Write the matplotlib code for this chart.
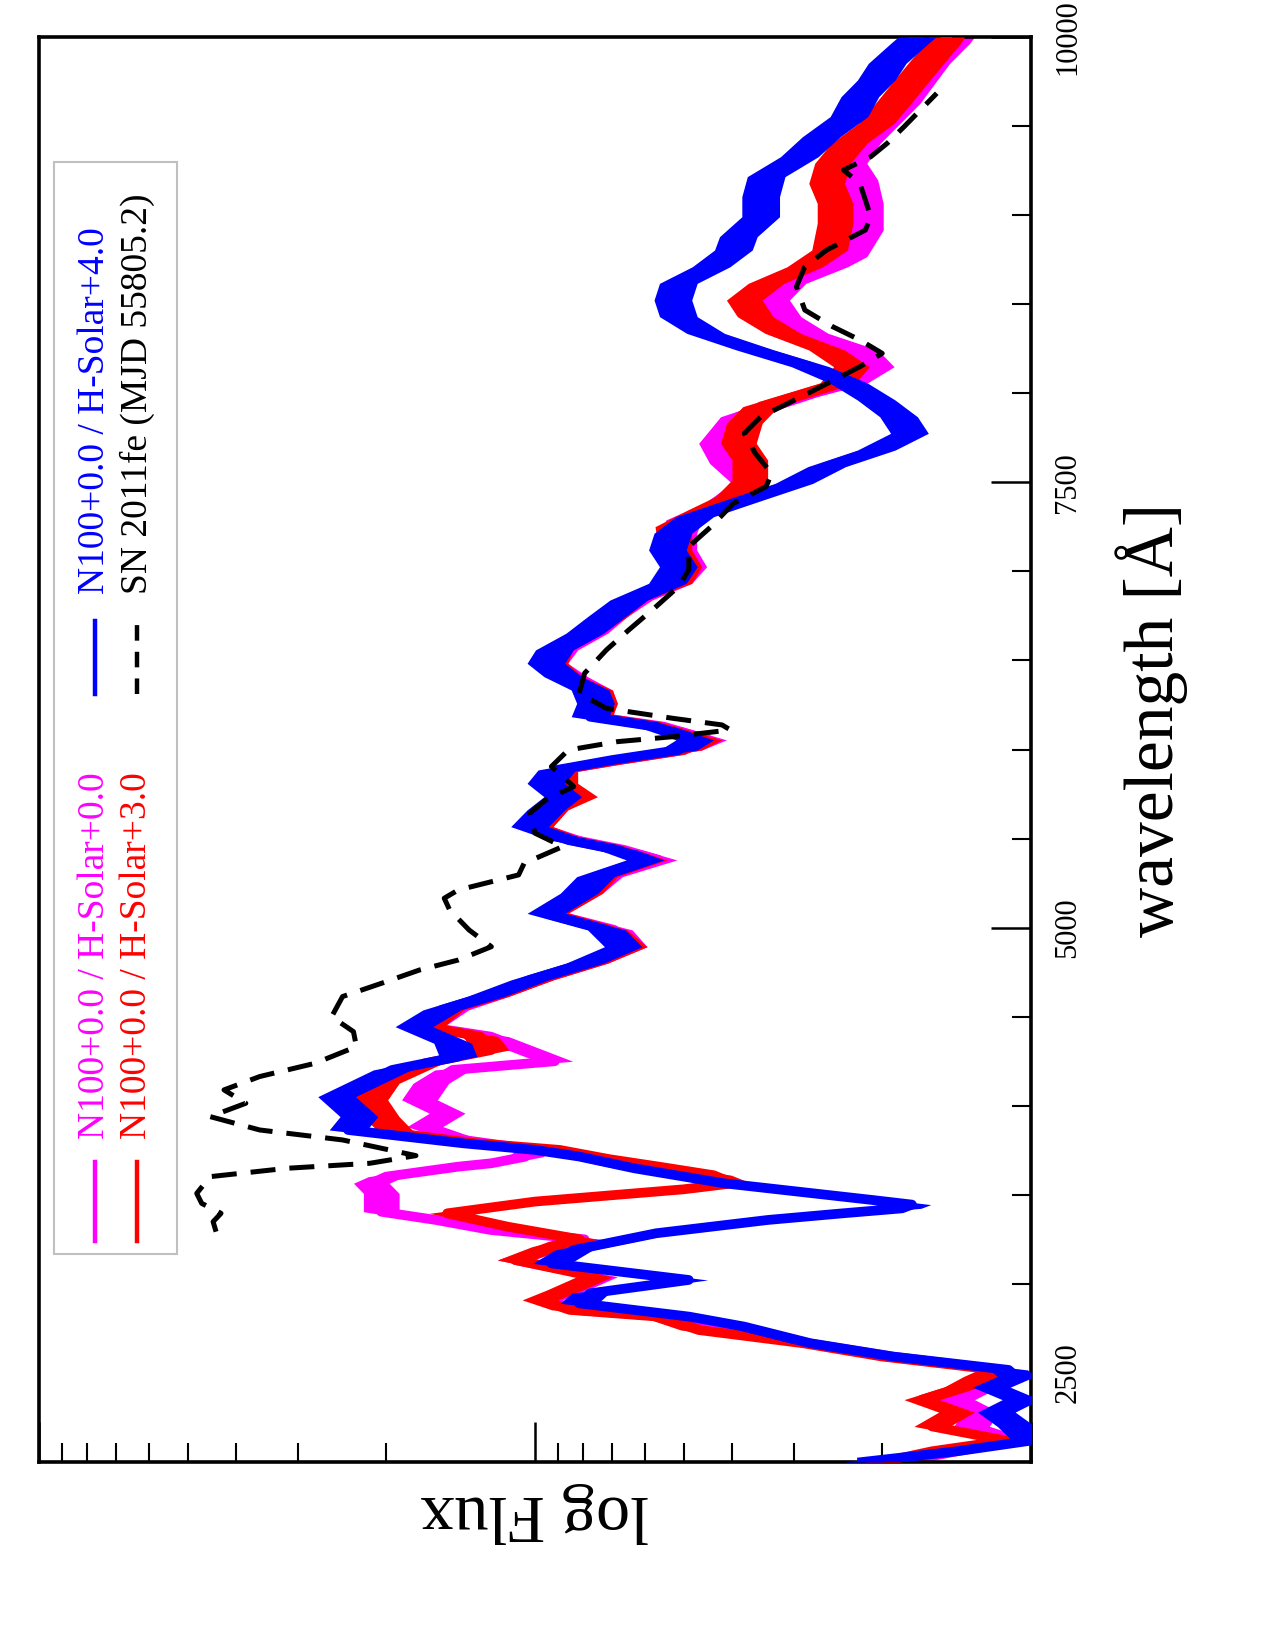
import matplotlib
matplotlib.use("Agg")
import matplotlib.pyplot as plt
import numpy as np
from matplotlib.ticker import MultipleLocator, LogLocator, NullFormatter
from matplotlib.patches import Rectangle

plt.rcParams['font.family'] = ['Liberation Serif', 'DejaVu Serif']

# wavelength [A] / log10 flux (relative units, 0 = middle decade tick)
wl_mag = [2000, 2060, 2120, 2200, 2280, 2350, 2420, 2480, 2517, 2592, 2667, 2741, 2816, 2854,
          2910, 2966, 3040, 3134, 3209, 3250, 3303, 3359, 3405, 3452, 3508, 3565, 3602, 3658,
          3677, 3714, 3752, 3808, 3883, 3958, 4033, 4126, 4201, 4250, 4388, 4444,
          4538, 4613, 4706, 4800, 4893, 4987, 5080, 5193, 5286, 5380, 5436, 5492, 5567, 5661,
          5735, 5810, 5885, 5941, 5997, 6054, 6128, 6184, 6259, 6334, 6409, 6484, 6559, 6652,
          6746, 6839, 6933, 7026, 7120, 7214, 7289, 7382, 7494, 7606, 7719, 7868, 7981, 8056,
          8149, 8243, 8336, 8430, 8523, 8617, 8710, 8767, 8916, 9066, 9197, 9291, 9403, 9515,
          9627, 9740, 9852, 9964, 10000]
lg_mag = [-0.74, -0.85, -0.97, -0.88, -0.90, -0.85, -0.90, -0.92, -0.94, -0.72, -0.55, -0.35, -0.27, -0.08,
          -0.02, -0.07, -0.13, 0.04, -0.04, -0.10, 0.09, 0.20, 0.31, 0.31, 0.31, 0.33, 0.30, 0.155,
          0.088, 0.02, 0.0, 0.144, 0.222, 0.177, 0.233, 0.21, 0.166, -0.04, 0.089, 0.22,
          0.17, 0.09, 0.0, -0.11, -0.19, -0.16, -0.03, -0.10, -0.14, -0.25, -0.18, -0.08, 0.0, -0.03,
          -0.08, -0.04, -0.05, -0.17, -0.30, -0.35, -0.26, -0.12, -0.13, -0.12, -0.07, -0.03, -0.05, -0.11,
          -0.15, -0.20, -0.28, -0.31, -0.29, -0.29, -0.30, -0.377, -0.433, -0.388, -0.366, -0.41, -0.533, -0.633,
          -0.688, -0.655, -0.555, -0.50, -0.477, -0.51, -0.594, -0.633, -0.666, -0.666, -0.655, -0.633, -0.66, -0.70,
          -0.74, -0.77, -0.80, -0.84, -0.85]

wl_red = [2000, 2060, 2120, 2200, 2280, 2350, 2420, 2480, 2517, 2592, 2667, 2741, 2816, 2854,
          2910, 2966, 3040, 3134, 3209, 3250, 3321, 3396, 3462, 3531, 3565, 3610, 3658, 3700,
          3752, 3790, 3845, 3939, 4033, 4126, 4238, 4313, 4388, 4444,
          4538, 4613, 4706, 4800, 4893, 4987, 5080, 5193, 5286, 5380, 5436, 5492, 5567, 5661,
          5735, 5810, 5885, 5941, 5997, 6054, 6128, 6184, 6259, 6334, 6409, 6484, 6559, 6652,
          6746, 6839, 6933, 7026, 7120, 7214, 7251, 7345, 7420, 7513, 7625, 7719, 7831, 7925,
          8000, 8056, 8149, 8243, 8336, 8430, 8523, 8617, 8710, 8804, 8954, 9066, 9178, 9291,
          9403, 9515, 9627, 9740, 9852, 9964, 10000]
lg_red = [-0.70, -0.80, -0.95, -0.80, -0.85, -0.78, -0.86, -0.90, -0.93, -0.70, -0.54, -0.33, -0.25, -0.07,
          -0.01, -0.06, -0.12, 0.04, -0.03, -0.09, 0.055, 0.177, 0.0, -0.30, -0.40, -0.36, -0.25, -0.15,
          -0.05, 0.12, 0.277, 0.31, 0.333, 0.31, 0.222, 0.088, 0.11, 0.22,
          0.18, 0.09, 0.0, -0.11, -0.19, -0.15, -0.03, -0.10, -0.13, -0.23, -0.17, -0.07, 0.0, -0.03,
          -0.09, -0.05, -0.05, -0.17, -0.30, -0.34, -0.25, -0.12, -0.13, -0.12, -0.06, -0.03, -0.04, -0.10,
          -0.15, -0.19, -0.28, -0.30, -0.28, -0.28, -0.278, -0.344, -0.40, -0.433, -0.433, -0.41, -0.422, -0.455,
          -0.544, -0.61, -0.638, -0.588, -0.50, -0.444, -0.422, -0.466, -0.544, -0.594, -0.605, -0.605, -0.588, -0.60,
          -0.633, -0.688, -0.722, -0.755, -0.788, -0.822, -0.83]

wl_blue = [2000, 2060, 2120, 2200, 2280, 2350, 2420, 2480, 2517, 2592, 2667, 2760, 2816, 2891,
           2947, 3022, 3115, 3190, 3284, 3359, 3396, 3424, 3445, 3471, 3565, 3649, 3715, 3752,
           3789, 3864, 3939, 4051, 4126, 4201, 4276, 4351, 4444, 4538, 4613, 4706, 4800, 4893,
           4987, 5080, 5193, 5286, 5380, 5436, 5492, 5567, 5661, 5735, 5810, 5885, 5941, 5997,
           6054, 6128, 6184, 6259, 6334, 6409, 6484, 6559, 6652, 6746, 6839, 6933, 7026, 7120,
           7214, 7307, 7401, 7494, 7588, 7681, 7775, 7868, 7962, 8056, 8149, 8243, 8336, 8430,
           8523, 8617, 8710, 8804, 8879, 8991, 9104, 9216, 9328, 9440, 9553, 9665, 9758, 9852,
           9964, 10000]
lg_blue = [-0.66, -0.85, -1.0, -0.97, -0.93, -0.98, -0.92, -0.97, -0.955, -0.722, -0.555, -0.422, -0.311, -0.089,
           -0.111, -0.31, -0.033, -0.078, -0.244, -0.47, -0.62, -0.74, -0.76, -0.68, -0.38, -0.20, -0.089, 0.0,
           0.144, 0.377, 0.355, 0.40, 0.344, 0.288, 0.155, 0.166, 0.244, 0.188, 0.10, 0.011, -0.10, -0.178,
           -0.144, -0.022, -0.089, -0.122, -0.222, -0.167, -0.067, 0.011, -0.022, -0.056, -0.022, -0.044, -0.156, -0.289,
           -0.322, -0.244, -0.111, -0.122, -0.111, -0.056, -0.022, -0.039, -0.10, -0.144, -0.189, -0.267, -0.289, -0.267,
           -0.278, -0.322, -0.422, -0.522, -0.588, -0.688, -0.755, -0.733, -0.688, -0.633, -0.555, -0.444, -0.344, -0.289,
           -0.278, -0.289, -0.355, -0.40, -0.41, -0.455, -0.455, -0.466, -0.533, -0.577, -0.633, -0.655, -0.688, -0.71,
           -0.755, -0.77]

wl_obs = [3293, 3349, 3396, 3452, 3508, 3602, 3649, 3677, 3720, 3808, 3864, 3939, 4014, 4089,
          4164, 4238, 4332, 4416, 4500, 4613, 4687, 4762, 4818, 4893, 4987, 5099, 5165, 5211,
          5296, 5361, 5455, 5530, 5642, 5717, 5792, 5904, 5997, 6044, 6072, 6110, 6138, 6175,
          6231, 6315, 6428, 6559, 6671, 6802, 6914, 7008, 7139, 7251, 7382, 7476, 7550, 7663,
          7775, 7868, 7943, 8037, 8149, 8224, 8299, 8374, 8467, 8598, 8710, 8804, 8916, 8991,
          9085, 9178, 9253, 9328, 9403, 9496, 9590, 9684]
lg_obs = [0.643, 0.649, 0.633, 0.672, 0.682, 0.655, 0.50, 0.333, 0.24, 0.388, 0.555, 0.655, 0.583, 0.627,
          0.555, 0.444, 0.36, 0.366, 0.41, 0.388, 0.31, 0.233, 0.155, 0.088, 0.133, 0.172, 0.183, 0.155,
          0.033, 0.022, -0.056, 0.0, 0.011, -0.022, -0.078, -0.033, -0.067, -0.166, -0.278, -0.394, -0.377, -0.278,
          -0.144, -0.089, -0.10, -0.144, -0.189, -0.244, -0.289, -0.31, -0.31, -0.355, -0.40, -0.466, -0.477, -0.444,
          -0.422, -0.455, -0.51, -0.577, -0.655, -0.70, -0.655, -0.60, -0.544, -0.527, -0.544, -0.588, -0.666, -0.677,
          -0.666, -0.655, -0.622, -0.677, -0.71, -0.744, -0.777, -0.81]

wl_ticks = [2500, 5000, 7500, 10000]
wl_ticklabels = ['2500', '5000', '7500', '10000']

labels = ['N100+0.0 / H-Solar+0.0', 'N100+0.0 / H-Solar+3.0',
          'N100+0.0 / H-Solar+4.0', 'SN 2011fe (MJD 55805.2)']
MAG, RED, BLUE = '#ff00ff', '#ff0000', '#0000ff'
DASH = (0, (5, 2.8))

fig = plt.figure(figsize=(12.75, 16.5), dpi=100)
ax = fig.add_axes([39/1275, 1 - 1462/1650, 992/1275, 1425/1650])


def band(wl, lg, col, hw, z):
    # noisy model spectrum: a band of constant width in log flux
    wl = np.asarray(wl, float)
    f = 10 ** np.asarray(lg, float)
    ax.fill_betweenx(wl, f * 10 ** -hw, f * 10 ** hw, color=col, lw=0, zorder=z)
    ax.plot(f, wl, color=col, lw=7, zorder=z)


band(wl_mag, lg_mag, MAG, 0.036, 2)
band(wl_red, lg_red, RED, 0.036, 3)
band(wl_blue, lg_blue, BLUE, 0.038, 4)
ax.plot(10 ** np.asarray(lg_obs), wl_obs, color='k', lw=3.6, ls=DASH, zorder=5)

ax.set_xscale('log')
ax.set_xlim(10, 0.1)
ax.set_ylim(2000, 10000)

ax.xaxis.set_major_locator(LogLocator(base=10))
ax.xaxis.set_minor_locator(LogLocator(base=10, subs=np.arange(2, 10)))
ax.xaxis.set_major_formatter(NullFormatter())
ax.xaxis.set_minor_formatter(NullFormatter())

ax.yaxis.set_minor_locator(MultipleLocator(500))
ax.yaxis.tick_right()
ax.set_yticks(wl_ticks)
ax.set_yticklabels(wl_ticklabels, rotation=90, va='center', ha='left', fontsize=22)

ax.tick_params(axis='both', which='major', direction='in', length=29, width=1.8)
ax.tick_params(axis='both', which='minor', direction='in', length=14, width=1.5)
ax.tick_params(axis='x', which='both', top=False, bottom=True)
ax.tick_params(axis='y', which='both', left=False, right=True, labelleft=False,
               labelright=True, pad=16)
for s in ax.spines.values():
    s.set_linewidth(2.6)

fig.text(535/1275, 1 - 1512/1650, 'log Flux', rotation=180, ha='center', va='center', fontsize=49)
fig.text(1152/1275, 1 - 720/1650, 'wavelength [Å]', rotation=90, ha='center', va='center', fontsize=50)

# legend, drawn by hand because its entries are rotated
ax.add_patch(Rectangle((0.0151, 0.146), 0.124, 0.766, transform=ax.transAxes,
                       facecolor='white', edgecolor='#c0c0c0', lw=1.5, zorder=6))
cols_x = [0.0565, 0.0988, 0.0565, 0.0988]
line_y = [(0.1551, 0.2105), (0.1551, 0.2105), (0.539, 0.590), (0.539, 0.590)]
text_y = [0.2267, 0.2267, 0.609, 0.609]
colors = [MAG, RED, BLUE, 'k']
styles = ['-', '-', '-', (0, (3.5, 2.5))]
for lab, x, ly, ty, c, st in zip(labels, cols_x, line_y, text_y, colors, styles):
    ax.plot([x, x], ly, color=c, lw=3.2, ls=st, transform=ax.transAxes, zorder=7)
    ax.text(x, ty, lab, color=c, rotation=90, ha='center', va='bottom', fontsize=27,
            transform=ax.transAxes, zorder=7)

fig.savefig('out.png', dpi=100)
